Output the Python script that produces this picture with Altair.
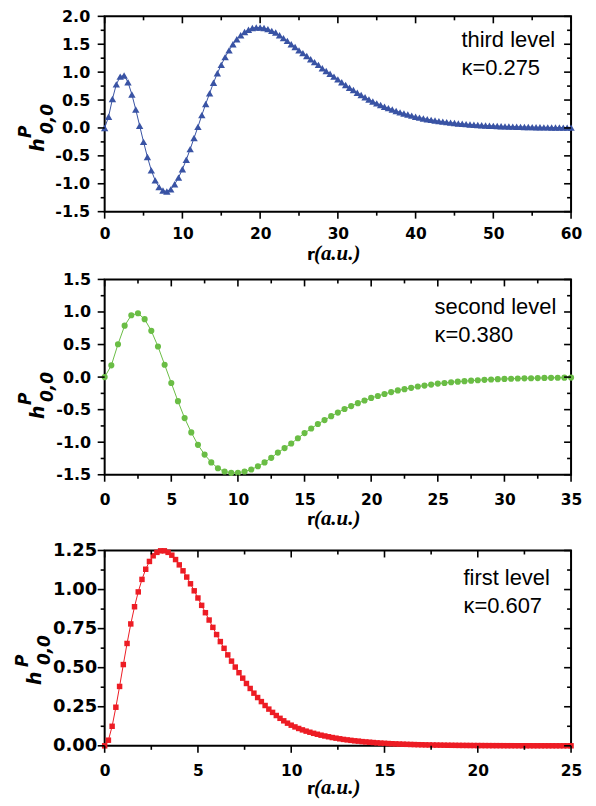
import altair as alt
import pandas as pd

# ---------------- data ----------------
# third level, kappa = 0.275, r = 0 .. 60 step 0.5
h1 = [0.00, 0.20, 0.52, 0.78, 0.92, 0.94, 0.82, 0.60, 0.33, 0.04,
      -0.25, -0.52, -0.76, -0.94, -1.06, -1.12, -1.14, -1.10, -1.01, -0.89,
      -0.74, -0.57, -0.38, -0.18, 0.02, 0.23, 0.43, 0.62, 0.81, 0.98,
      1.13, 1.27, 1.39, 1.50, 1.59, 1.66, 1.72, 1.76, 1.79, 1.80,
      1.80, 1.79, 1.77, 1.74, 1.71, 1.66, 1.61, 1.56, 1.50, 1.45,
      1.39, 1.34, 1.29, 1.23, 1.18, 1.13, 1.07, 1.02, 0.97, 0.92,
      0.87, 0.82, 0.77, 0.72, 0.68, 0.63, 0.59, 0.55, 0.51, 0.475,
      0.44, 0.41, 0.38, 0.355, 0.33, 0.305, 0.28, 0.26, 0.24, 0.22,
      0.20, 0.185, 0.17, 0.157, 0.145, 0.134, 0.123, 0.113, 0.104, 0.096,
      0.088, 0.081, 0.074, 0.068, 0.062, 0.057, 0.052, 0.048, 0.044, 0.040,
      0.037, 0.034, 0.031, 0.028, 0.026, 0.024, 0.022, 0.020, 0.018, 0.0165,
      0.015, 0.0135, 0.012, 0.011, 0.010, 0.009, 0.008, 0.0072, 0.0065, 0.0058,
      0.005]
r1 = [i * 0.5 for i in range(len(h1))]

# second level, kappa = 0.380, r = 0 .. 35 step 0.5
h2 = [0.00, 0.18, 0.505, 0.79, 0.95, 0.98, 0.89, 0.71, 0.47, 0.19,
      -0.09, -0.37, -0.63, -0.85, -1.04, -1.19, -1.31, -1.40, -1.45, -1.47,
      -1.47, -1.45, -1.42, -1.37, -1.31, -1.24, -1.16, -1.09, -1.02, -0.94,
      -0.86, -0.79, -0.72, -0.66, -0.60, -0.545, -0.49, -0.445, -0.40, -0.36,
      -0.32, -0.29, -0.26, -0.23, -0.205, -0.185, -0.165, -0.145, -0.13, -0.115,
      -0.10, -0.09, -0.08, -0.07, -0.062, -0.055, -0.048, -0.042, -0.037, -0.032,
      -0.028, -0.025, -0.022, -0.019, -0.017, -0.015, -0.013, -0.011, -0.010, -0.009,
      -0.008]
r2 = [i * 0.5 for i in range(len(h2))]

# first level, kappa = 0.607, r = 0 .. 25 step 0.2
h3 = [0.000, 0.036, 0.125, 0.247, 0.380, 0.520, 0.655, 0.780, 0.890, 0.985,
      1.065, 1.130, 1.180, 1.216, 1.238, 1.248, 1.248, 1.238, 1.220, 1.192,
      1.158, 1.120, 1.080, 1.037, 0.992, 0.946, 0.899, 0.852, 0.805, 0.758,
      0.712, 0.667, 0.624, 0.582, 0.542, 0.504, 0.468, 0.433, 0.399, 0.367,
      0.337, 0.309, 0.283, 0.258, 0.235, 0.214, 0.194, 0.176, 0.160, 0.145,
      0.132, 0.121, 0.111, 0.102, 0.094, 0.087, 0.080, 0.074, 0.068, 0.063,
      0.058, 0.053, 0.049, 0.045, 0.041, 0.038, 0.035, 0.032, 0.030, 0.027,
      0.025, 0.023, 0.021, 0.019, 0.0175, 0.016, 0.0147, 0.0135, 0.0124, 0.0113,
      0.0104, 0.0095, 0.0087, 0.008, 0.0073, 0.0067, 0.0061, 0.0056, 0.0051, 0.0047,
      0.0043, 0.0039, 0.0036, 0.0033, 0.003, 0.0027, 0.0025, 0.0023, 0.0021, 0.0019,
      0.0017, 0.0016, 0.0014, 0.0013, 0.0012, 0.0011, 0.001, 0.0009, 0.0008, 0.0008,
      0.0007, 0.0006, 0.0006, 0.0005, 0.0005, 0.0004, 0.0004, 0.0004, 0.0003, 0.0003,
      0.0003, 0.0002, 0.0002, 0.0002, 0.0002,
      0.0002]
r3 = [i * 0.2 for i in range(len(h3))]

# tick values
x1_major = [0, 10, 20, 30, 40, 50, 60]
x1_minor = [5, 15, 25, 35, 45, 55]
y1_major = [-1.5, -1.0, -0.5, 0.0, 0.5, 1.0, 1.5, 2.0]
y1_minor = [-1.25, -0.75, -0.25, 0.25, 0.75, 1.25, 1.75]

x2_major = [0, 5, 10, 15, 20, 25, 30, 35]
x2_minor = [2.5, 7.5, 12.5, 17.5, 22.5, 27.5, 32.5]
y2_major = [-1.5, -1.0, -0.5, 0.0, 0.5, 1.0, 1.5]
y2_minor = [-1.25, -0.75, -0.25, 0.25, 0.75, 1.25]

x3_major = [0, 5, 10, 15, 20, 25]
x3_minor = [2.5, 7.5, 12.5, 17.5, 22.5]
y3_major = [0.0, 0.25, 0.5, 0.75, 1.0, 1.25]
y3_minor = [0.125, 0.375, 0.625, 0.875, 1.125]

labels = [("third level", "κ=0.275"), ("second level", "κ=0.380"), ("first level", "κ=0.607")]

W, H = 468, 196
MAJ, MIN = 7, 4
TICKW = 1.6
LABFONT = "DejaVu Sans"


def txt(t, x, y, **kw):
    return alt.Chart(pd.DataFrame({"t": [t]})).mark_text(**kw).encode(
        x=alt.value(x), y=alt.value(y), text="t:N")


def panel(r, h, color, shape, size, xmaj, xmin, ymaj, ymin, yfmt, ylabsize,
          ylabpad, xlabpad, lab, lab_x, lab_y, hx, hy, xt_base):
    df = pd.DataFrame({"r": r, "h": h})
    xs = alt.Scale(domain=[xmaj[0], xmaj[-1]], nice=False, zero=False)
    ys = alt.Scale(domain=[ymaj[0], ymaj[-1]], nice=False, zero=False)
    xaxis = alt.Axis(values=xmaj, ticks=False, domain=False, grid=False,
                     labelFont=LABFONT, labelFontWeight="bold", labelFontSize=15.5,
                     labelColor="black", labelPadding=xlabpad, title=None,
                     format="d", labelFlush=False, labelOverlap=False)
    yaxis = alt.Axis(values=ymaj, ticks=False, domain=False, grid=False,
                     labelFont=LABFONT, labelFontWeight="bold", labelFontSize=ylabsize,
                     labelColor="black", labelPadding=ylabpad, title=None,
                     labelFlush=False, labelOverlap=False,
                     labelExpr="replace(format(datum.value, '%s'), '\u2212', '-')" % yfmt)
    line = alt.Chart(df).mark_line(color=color, strokeWidth=1).encode(
        x=alt.X("r:Q", scale=xs, axis=xaxis),
        y=alt.Y("h:Q", scale=ys, axis=yaxis))
    pts = alt.Chart(df).mark_point(shape=shape, filled=True, size=size,
                                   color=color, opacity=1, strokeWidth=0).encode(
        x=alt.X("r:Q", scale=xs, axis=xaxis), y=alt.Y("h:Q", scale=ys, axis=yaxis))

    def xticks(vals, y0, y1):
        return alt.Chart(pd.DataFrame({"r": vals})).mark_rule(
            color="black", strokeWidth=TICKW).encode(
            x=alt.X("r:Q", scale=xs, axis=xaxis), y=alt.value(y0), y2=alt.value(y1))

    def yticks(vals, x0, x1):
        return alt.Chart(pd.DataFrame({"h": vals})).mark_rule(
            color="black", strokeWidth=TICKW).encode(
            y=alt.Y("h:Q", scale=ys, axis=yaxis), x=alt.value(x0), x2=alt.value(x1))

    ticks = [
        xticks(xmaj, H, H + MAJ), xticks(xmin, H, H + MIN),
        xticks(xmaj, 0, MAJ), xticks(xmin, 0, MIN),
        yticks(ymaj, -MAJ, 0), yticks(ymin, -MIN, 0),
        yticks(ymaj, W - MAJ, W), yticks(ymin, W - MIN, W),
    ]

    ann = [
        txt(lab[0], lab_x, lab_y[0], font="Liberation Sans", fontSize=22,
            align="left", baseline="alphabetic", color="black"),
        txt(lab[1], lab_x, lab_y[1], font="Liberation Sans", fontSize=22,
            align="left", baseline="alphabetic", color="black"),
    ]
    # y title  h^P_{0,0}
    ytitle = [
        txt("h", hx[0], hy[0], font=LABFONT, fontSize=19, fontStyle="italic",
            fontWeight="bold", angle=270, align="left", baseline="alphabetic", color="black"),
        txt("0,0", hx[1], hy[1], font=LABFONT, fontSize=17, fontStyle="italic",
            fontWeight="bold", angle=270, align="left", baseline="alphabetic", color="black"),
        txt("P", hx[2], hy[2], font=LABFONT, fontSize=17, fontStyle="italic",
            fontWeight="bold", angle=270, align="left", baseline="alphabetic", color="black"),
    ]
    # x title  r(a.u.)
    xtitle = [
        txt("r", 203, H + xt_base, font=LABFONT, fontSize=16, fontWeight="bold",
            align="left", baseline="alphabetic", color="black"),
        txt("(a.u.)", 210, H + xt_base, font="Liberation Serif", fontSize=21,
            fontWeight="bold", fontStyle="italic", align="left",
            baseline="alphabetic", color="black"),
    ]
    return alt.layer(line, pts, *ticks, *ann, *ytitle, *xtitle).properties(width=W, height=H)


p1 = panel(r1, h1, "#3953a4", "triangle-up", 55, x1_major, x1_minor, y1_major, y1_minor,
           ".1f", 16, 15, 14.5, labels[0], 358, (31, 59),
           (-61, -52, -74), (136, 118, 122), 49)
p2 = panel(r2, h2, "#6abd45", "circle", 38, x2_major, x2_minor, y2_major, y2_minor,
           ".1f", 16, 14, 17.5, labels[1], 331, (35, 63),
           (-61, -52, -74), (140, 123, 126), 50)
p3 = panel(r3, h3, "#ed1c24", "square", 30, x3_major, x3_minor, y3_major, y3_minor,
           ".2f", 18, 8, 18, labels[2], 360, (35, 63),
           (-64, -55, -77), (135, 115, 117), 48)

chart = alt.vconcat(
    alt.vconcat(p1, p2, spacing=5),
    p3, spacing=11,
).properties(
    padding={"left": 5, "top": -2, "right": 5, "bottom": 0}
).configure(background="white").configure_view(stroke="black", strokeWidth=2)

chart.save("out.html", embed_options={"renderer": "svg", "actions": False})
